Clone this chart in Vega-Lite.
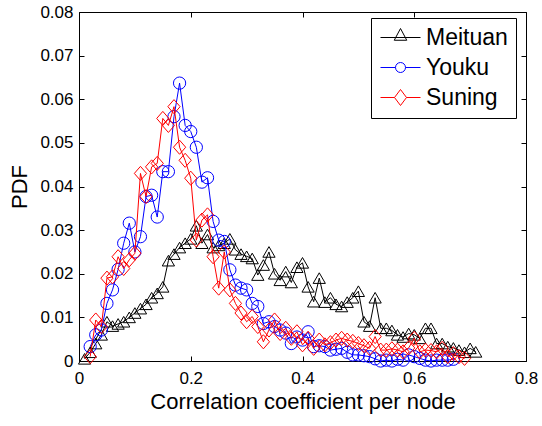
{
  "$schema": "https://vega.github.io/schema/vega-lite/v6.json",
  "width": 447,
  "height": 349,
  "autosize": {"type": "none"},
  "padding": {"left": 79, "top": 12, "right": 16, "bottom": 65},
  "config": {
    "font": "Liberation Sans",
    "view": {"stroke": "black", "strokeWidth": 1},
    "axis": {"grid": false, "domain": false, "tickColor": "black", "labelColor": "black", "titleColor": "black", "labelFont": "Liberation Sans", "titleFont": "Liberation Sans", "titleFontWeight": "normal", "labelFontSize": 17, "titleFontSize": 22, "tickSize": -5, "labelFlush": false, "labelOverlap": false},
    "legend": {"orient": "none", "legendX": 292, "legendY": 6, "title": null, "padding": 8, "strokeColor": "black", "fillColor": "white", "labelFont": "Liberation Sans", "labelFontSize": 23, "labelColor": "black", "symbolSize": 100, "symbolOffset": 10, "labelOffset": 14, "rowPadding": 6, "symbolStrokeWidth": 1}
  },
  "data": {
    "values": [
      {"s":"Meituan","x":0.01,"y":0.0005},{"s":"Meituan","x":0.02,"y":0.002},{"s":"Meituan","x":0.03,"y":0.004},{"s":"Meituan","x":0.04,"y":0.006},{"s":"Meituan","x":0.05,"y":0.009},{"s":"Meituan","x":0.06,"y":0.008},{"s":"Meituan","x":0.07,"y":0.0085},{"s":"Meituan","x":0.08,"y":0.009},{"s":"Meituan","x":0.09,"y":0.010},{"s":"Meituan","x":0.10,"y":0.011},{"s":"Meituan","x":0.11,"y":0.012},{"s":"Meituan","x":0.12,"y":0.013},{"s":"Meituan","x":0.13,"y":0.0145},{"s":"Meituan","x":0.14,"y":0.0155},{"s":"Meituan","x":0.15,"y":0.017},{"s":"Meituan","x":0.16,"y":0.023},{"s":"Meituan","x":0.17,"y":0.0245},{"s":"Meituan","x":0.18,"y":0.026},{"s":"Meituan","x":0.19,"y":0.027},{"s":"Meituan","x":0.20,"y":0.028},{"s":"Meituan","x":0.21,"y":0.031},{"s":"Meituan","x":0.22,"y":0.027},{"s":"Meituan","x":0.23,"y":0.029},{"s":"Meituan","x":0.24,"y":0.026},{"s":"Meituan","x":0.25,"y":0.0265},{"s":"Meituan","x":0.26,"y":0.027},{"s":"Meituan","x":0.27,"y":0.028},{"s":"Meituan","x":0.28,"y":0.0255},{"s":"Meituan","x":0.29,"y":0.0245},{"s":"Meituan","x":0.30,"y":0.024},{"s":"Meituan","x":0.31,"y":0.0235},{"s":"Meituan","x":0.32,"y":0.0197},{"s":"Meituan","x":0.33,"y":0.022},{"s":"Meituan","x":0.34,"y":0.025},{"s":"Meituan","x":0.35,"y":0.020},{"s":"Meituan","x":0.36,"y":0.0185},{"s":"Meituan","x":0.37,"y":0.0205},{"s":"Meituan","x":0.38,"y":0.018},{"s":"Meituan","x":0.39,"y":0.0215},{"s":"Meituan","x":0.40,"y":0.0225},{"s":"Meituan","x":0.41,"y":0.017},{"s":"Meituan","x":0.42,"y":0.0136},{"s":"Meituan","x":0.43,"y":0.019},{"s":"Meituan","x":0.44,"y":0.0135},{"s":"Meituan","x":0.45,"y":0.0145},{"s":"Meituan","x":0.46,"y":0.013},{"s":"Meituan","x":0.47,"y":0.0125},{"s":"Meituan","x":0.48,"y":0.0135},{"s":"Meituan","x":0.49,"y":0.0145},{"s":"Meituan","x":0.50,"y":0.016},{"s":"Meituan","x":0.51,"y":0.009},{"s":"Meituan","x":0.52,"y":0.008},{"s":"Meituan","x":0.53,"y":0.0145},{"s":"Meituan","x":0.54,"y":0.0075},{"s":"Meituan","x":0.55,"y":0.0075},{"s":"Meituan","x":0.56,"y":0.007},{"s":"Meituan","x":0.57,"y":0.006},{"s":"Meituan","x":0.58,"y":0.0055},{"s":"Meituan","x":0.59,"y":0.0063},{"s":"Meituan","x":0.60,"y":0.006},{"s":"Meituan","x":0.61,"y":0.0052},{"s":"Meituan","x":0.62,"y":0.0075},{"s":"Meituan","x":0.63,"y":0.0075},{"s":"Meituan","x":0.64,"y":0.004},{"s":"Meituan","x":0.65,"y":0.004},{"s":"Meituan","x":0.66,"y":0.0033},{"s":"Meituan","x":0.67,"y":0.003},{"s":"Meituan","x":0.68,"y":0.0025},{"s":"Meituan","x":0.69,"y":0.002},{"s":"Meituan","x":0.70,"y":0.0029},{"s":"Meituan","x":0.71,"y":0.0021},
      {"s":"Youku","x":0.02,"y":0.0033},{"s":"Youku","x":0.03,"y":0.006},{"s":"Youku","x":0.04,"y":0.0071},{"s":"Youku","x":0.05,"y":0.0132},{"s":"Youku","x":0.06,"y":0.0163},{"s":"Youku","x":0.07,"y":0.021},{"s":"Youku","x":0.08,"y":0.027},{"s":"Youku","x":0.09,"y":0.0316},{"s":"Youku","x":0.10,"y":0.025},{"s":"Youku","x":0.11,"y":0.0285},{"s":"Youku","x":0.12,"y":0.0377},{"s":"Youku","x":0.13,"y":0.038},{"s":"Youku","x":0.14,"y":0.033},{"s":"Youku","x":0.15,"y":0.0434},{"s":"Youku","x":0.16,"y":0.0434},{"s":"Youku","x":0.17,"y":0.056},{"s":"Youku","x":0.18,"y":0.0637},{"s":"Youku","x":0.19,"y":0.054},{"s":"Youku","x":0.20,"y":0.0526},{"s":"Youku","x":0.21,"y":0.049},{"s":"Youku","x":0.22,"y":0.041},{"s":"Youku","x":0.23,"y":0.042},{"s":"Youku","x":0.24,"y":0.032},{"s":"Youku","x":0.25,"y":0.0277},{"s":"Youku","x":0.26,"y":0.0274},{"s":"Youku","x":0.27,"y":0.0209},{"s":"Youku","x":0.28,"y":0.0174},{"s":"Youku","x":0.29,"y":0.0167},{"s":"Youku","x":0.30,"y":0.0163},{"s":"Youku","x":0.31,"y":0.0132},{"s":"Youku","x":0.32,"y":0.0125},{"s":"Youku","x":0.33,"y":0.0086},{"s":"Youku","x":0.34,"y":0.009},{"s":"Youku","x":0.35,"y":0.0079},{"s":"Youku","x":0.36,"y":0.0071},{"s":"Youku","x":0.37,"y":0.0064},{"s":"Youku","x":0.38,"y":0.004},{"s":"Youku","x":0.39,"y":0.0055},{"s":"Youku","x":0.40,"y":0.0048},{"s":"Youku","x":0.41,"y":0.0067},{"s":"Youku","x":0.42,"y":0.0033},{"s":"Youku","x":0.43,"y":0.0035},{"s":"Youku","x":0.44,"y":0.0033},{"s":"Youku","x":0.45,"y":0.0025},{"s":"Youku","x":0.46,"y":0.0027},{"s":"Youku","x":0.47,"y":0.0029},{"s":"Youku","x":0.48,"y":0.002},{"s":"Youku","x":0.49,"y":0.0014},{"s":"Youku","x":0.50,"y":0.0014},{"s":"Youku","x":0.51,"y":0.0012},{"s":"Youku","x":0.52,"y":0.001},{"s":"Youku","x":0.53,"y":0.0005},{"s":"Youku","x":0.54,"y":0.0},{"s":"Youku","x":0.55,"y":0.0002},{"s":"Youku","x":0.56,"y":0.0},{"s":"Youku","x":0.57,"y":0.0004},{"s":"Youku","x":0.58,"y":0.0002},{"s":"Youku","x":0.59,"y":0.0014},{"s":"Youku","x":0.60,"y":0.001},{"s":"Youku","x":0.61,"y":0.0006},{"s":"Youku","x":0.62,"y":0.0002},{"s":"Youku","x":0.63,"y":0.0},{"s":"Youku","x":0.64,"y":0.0002},{"s":"Youku","x":0.65,"y":0.0002},{"s":"Youku","x":0.66,"y":0.0002},{"s":"Youku","x":0.67,"y":0.0004},
      {"s":"Suning","x":0.02,"y":0.001},{"s":"Suning","x":0.03,"y":0.0094},{"s":"Suning","x":0.04,"y":0.0079},{"s":"Suning","x":0.05,"y":0.019},{"s":"Suning","x":0.06,"y":0.0193},{"s":"Suning","x":0.07,"y":0.0239},{"s":"Suning","x":0.08,"y":0.0212},{"s":"Suning","x":0.09,"y":0.0232},{"s":"Suning","x":0.10,"y":0.0247},{"s":"Suning","x":0.11,"y":0.043},{"s":"Suning","x":0.12,"y":0.0377},{"s":"Suning","x":0.13,"y":0.0445},{"s":"Suning","x":0.14,"y":0.0453},{"s":"Suning","x":0.15,"y":0.0556},{"s":"Suning","x":0.16,"y":0.054},{"s":"Suning","x":0.17,"y":0.0583},{"s":"Suning","x":0.18,"y":0.049},{"s":"Suning","x":0.19,"y":0.046},{"s":"Suning","x":0.20,"y":0.0419},{"s":"Suning","x":0.21,"y":0.0277},{"s":"Suning","x":0.22,"y":0.0323},{"s":"Suning","x":0.23,"y":0.0335},{"s":"Suning","x":0.24,"y":0.0239},{"s":"Suning","x":0.25,"y":0.0167},{"s":"Suning","x":0.26,"y":0.025},{"s":"Suning","x":0.27,"y":0.0163},{"s":"Suning","x":0.28,"y":0.0132},{"s":"Suning","x":0.29,"y":0.011},{"s":"Suning","x":0.30,"y":0.009},{"s":"Suning","x":0.31,"y":0.0102},{"s":"Suning","x":0.32,"y":0.0079},{"s":"Suning","x":0.33,"y":0.0044},{"s":"Suning","x":0.34,"y":0.0071},{"s":"Suning","x":0.35,"y":0.0094},{"s":"Suning","x":0.36,"y":0.0063},{"s":"Suning","x":0.37,"y":0.0075},{"s":"Suning","x":0.38,"y":0.0052},{"s":"Suning","x":0.39,"y":0.0067},{"s":"Suning","x":0.40,"y":0.0037},{"s":"Suning","x":0.41,"y":0.0052},{"s":"Suning","x":0.42,"y":0.0029},{"s":"Suning","x":0.43,"y":0.0048},{"s":"Suning","x":0.44,"y":0.0037},{"s":"Suning","x":0.45,"y":0.0042},{"s":"Suning","x":0.46,"y":0.0048},{"s":"Suning","x":0.47,"y":0.0052},{"s":"Suning","x":0.48,"y":0.0048},{"s":"Suning","x":0.49,"y":0.0045},{"s":"Suning","x":0.50,"y":0.004},{"s":"Suning","x":0.51,"y":0.0035},{"s":"Suning","x":0.52,"y":0.0029},{"s":"Suning","x":0.53,"y":0.0056},{"s":"Suning","x":0.54,"y":0.0025},{"s":"Suning","x":0.55,"y":0.0025},{"s":"Suning","x":0.56,"y":0.0028},{"s":"Suning","x":0.57,"y":0.0025},{"s":"Suning","x":0.58,"y":0.0021},{"s":"Suning","x":0.59,"y":0.003},{"s":"Suning","x":0.60,"y":0.0052},{"s":"Suning","x":0.61,"y":0.0021},{"s":"Suning","x":0.62,"y":0.0025},{"s":"Suning","x":0.63,"y":0.0024},{"s":"Suning","x":0.64,"y":0.0021},{"s":"Suning","x":0.65,"y":0.0029},{"s":"Suning","x":0.66,"y":0.001},{"s":"Suning","x":0.67,"y":0.0017},{"s":"Suning","x":0.68,"y":0.001},{"s":"Suning","x":0.69,"y":0.0006}
    ]
  },
  "layer": [
    {
      "transform": [{"filter": "datum.s == 'Meituan'"}],
      "mark": {"type": "line", "strokeWidth": 1, "color": "#000000", "clip": false},
      "encoding": {
        "x": {"field": "x", "type": "quantitative", "scale": {"domain": [0, 0.8], "nice": false, "zero": false},
              "axis": {"orient": "bottom", "values": [0, 0.2, 0.4, 0.6, 0.8], "labelPadding": 14, "title": "Correlation coefficient per node", "titlePadding": 5, "labelExpr": "datum.value == 0 ? '0' : format(datum.value, '.1f')"}},
        "y": {"field": "y", "type": "quantitative", "scale": {"domain": [0, 0.08], "nice": false, "zero": false},
              "axis": {"orient": "left", "values": [0, 0.01, 0.02, 0.03, 0.04, 0.05, 0.06, 0.07, 0.08], "labelPadding": 11, "title": "PDF", "titlePadding": 8, "labelExpr": "datum.value == 0 ? '0' : format(datum.value, '.2f')"}},
        "order": {"field": "x"}
      }
    },
    {
      "transform": [{"filter": "datum.s == 'Meituan'"}],
      "mark": {"type": "point", "shape": "triangle-up", "filled": false, "color": "#000000", "strokeWidth": 1, "opacity": 1, "size": 150, "clip": false},
      "encoding": {
        "x": {"field": "x", "type": "quantitative", "axis": {"orient": "top", "values": [0, 0.2, 0.4, 0.6, 0.8], "labels": false, "title": null}},
        "y": {"field": "y", "type": "quantitative", "axis": {"orient": "right", "values": [0, 0.01, 0.02, 0.03, 0.04, 0.05, 0.06, 0.07, 0.08], "labels": false, "title": null}}
      }
    },
    {
      "transform": [{"filter": "datum.s == 'Youku'"}],
      "mark": {"type": "line", "strokeWidth": 1, "color": "#0000ff", "clip": false},
      "encoding": {
        "x": {"field": "x", "type": "quantitative", "axis": null},
        "y": {"field": "y", "type": "quantitative", "axis": null},
        "order": {"field": "x"}
      }
    },
    {
      "transform": [{"filter": "datum.s == 'Youku'"}],
      "mark": {"type": "point", "shape": "circle", "filled": false, "color": "#0000ff", "strokeWidth": 1, "opacity": 1, "size": 150, "clip": false},
      "encoding": {
        "x": {"field": "x", "type": "quantitative", "axis": null},
        "y": {"field": "y", "type": "quantitative", "axis": null}
      }
    },
    {
      "transform": [{"filter": "datum.s == 'Suning'"}],
      "mark": {"type": "line", "strokeWidth": 1, "color": "#ff0000", "clip": false},
      "encoding": {
        "x": {"field": "x", "type": "quantitative", "axis": null},
        "y": {"field": "y", "type": "quantitative", "axis": null},
        "order": {"field": "x"}
      }
    },
    {
      "transform": [{"filter": "datum.s == 'Suning'"}],
      "mark": {"type": "point", "shape": "M0,-1.15L1,0L0,1.15L-1,0Z", "filled": false, "color": "#ff0000", "strokeWidth": 1, "opacity": 1, "size": 150, "clip": false},
      "encoding": {
        "x": {"field": "x", "type": "quantitative", "axis": null},
        "y": {"field": "y", "type": "quantitative", "axis": null}
      }
    },
    {
      "transform": [{"filter": "datum.s == 'none'"}],
      "mark": {"type": "point", "filled": false, "strokeWidth": 1, "opacity": 1},
      "encoding": {
        "x": {"field": "x", "type": "quantitative", "axis": null},
        "y": {"field": "y", "type": "quantitative", "axis": null},
        "color": {"field": "s", "type": "nominal", "scale": {"domain": ["Meituan", "Youku", "Suning"], "range": ["#000000", "#0000ff", "#ff0000"]}},
        "shape": {"field": "s", "type": "nominal", "scale": {"domain": ["Meituan", "Youku", "Suning"], "range": ["M-4,0H4M-1.25,0.55L0,-1.8L1.25,0.55Z", "M-4,0H-1M1,0H4M1,0A1,1,0,1,1,-1,0A1,1,0,1,1,1,0Z", "M-4,0H-1.2M1.2,0H4M-1.2,0L0,-1.6L1.2,0L0,1.6Z"]}}
      }
    }
  ],
  "resolve": {"axis": {"x": "independent", "y": "independent"}}
}
